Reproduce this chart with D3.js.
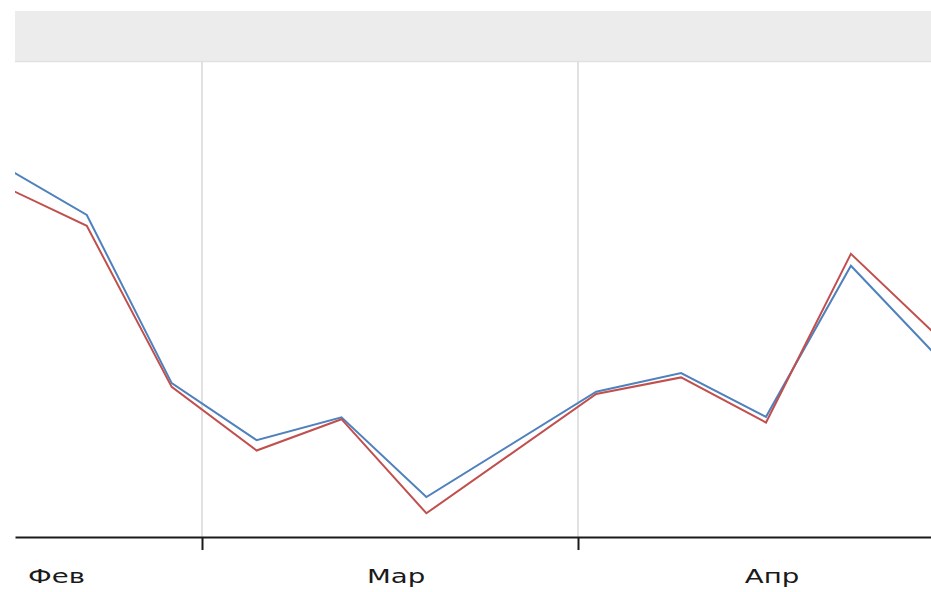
<!DOCTYPE html>
<html>
<head>
<meta charset="utf-8">
<script src="https://cdn.jsdelivr.net/npm/d3@7"></script>
<style>
  html, body { margin: 0; padding: 0; background: #fff; }
  svg { display: block; }
</style>
</head>
<body>
<svg id="chart" width="931" height="592"></svg>
<script>
// ---- data ----
const weekDates = [
  "2015-02-12T12:00", "2015-02-19T12:00", "2015-02-26T12:00", "2015-03-05T12:00",
  "2015-03-12T12:00", "2015-03-19T12:00", "2015-04-02T12:00", "2015-04-09T12:00",
  "2015-04-16T12:00", "2015-04-23T12:00", "2015-04-30T12:00"
];
const seriesBlue = [78.2, 67.8, 32.4, 20.4, 25.2, 8.4, 30.6, 34.5, 25.3, 57.1, 38.3];
const seriesRed  = [74.0, 65.5, 31.6, 18.2, 24.8, 5.0, 30.1, 33.6, 24.1, 59.6, 42.6];
const tickDates  = ["2015-03-01T00:00", "2015-04-01T00:00"];
const monthLabels = ["Фев", "Мар", "Апр"];
const labelDates  = ["2015-02-17T00:00", "2015-03-17T00:00", "2015-04-17T00:00"];

(function () {
const parse = d3.utcParse("%Y-%m-%dT%H:%M");
const colors = { blue: "#4F81BD", red: "#C0504D" };

// ---- layout ----
const pL = 15, pR = 931, pT = 62, pB = 537;
const svg = d3.select("#chart");

// time scale anchored on the two month gridlines, then widened to the plot edges
const anchor = d3.scaleUtc().domain(tickDates.map(parse)).range([202, 578]);
const x = d3.scaleUtc().domain([anchor.invert(pL), anchor.invert(pR)]).range([pL, pR]);
const y = d3.scaleLinear().domain([0, 100]).range([pB, pT]);

// header band
svg.append("rect").attr("x", pL).attr("y", 11).attr("width", pR - pL).attr("height", 51)
  .attr("fill", "#ececec");
svg.append("line").attr("x1", pL).attr("x2", pR).attr("y1", 61.5).attr("y2", 61.5)
  .attr("stroke", "#e1e1e1").attr("stroke-width", 1.5);

// vertical gridlines
svg.append("g").selectAll("line").data(tickDates.map(parse)).join("line")
  .attr("x1", d => x(d)).attr("x2", d => x(d))
  .attr("y1", pT).attr("y2", pB)
  .attr("stroke", "#d9d9d9").attr("stroke-width", 1.5);

// clip for the lines
svg.append("clipPath").attr("id", "plotclip").append("rect")
  .attr("x", pL).attr("y", pT).attr("width", pR - pL).attr("height", pB - pT);

const line = d3.line().x(d => x(d.date)).y(d => y(d.value));
const toPts = vals => weekDates.map((s, i) => ({ date: parse(s), value: vals[i] }));

const lg = svg.append("g").attr("clip-path", "url(#plotclip)");
lg.append("path").datum(toPts(seriesBlue)).attr("d", line)
  .attr("fill", "none").attr("stroke", colors.blue).attr("stroke-width", 2).attr("stroke-linejoin", "miter");
lg.append("path").datum(toPts(seriesRed)).attr("d", line)
  .attr("fill", "none").attr("stroke", colors.red).attr("stroke-width", 2).attr("stroke-linejoin", "miter");

// x axis
const axis = d3.axisBottom(x).tickValues(tickDates.map(parse)).tickFormat("").tickSizeInner(13).tickSizeOuter(0);
const ax = svg.append("g").attr("transform", `translate(0,${pB})`).call(axis);
ax.select(".domain").attr("stroke", "#1a1a1a").attr("stroke-width", 2);
ax.selectAll(".tick line").attr("stroke", "#1a1a1a").attr("stroke-width", 2);

// month labels
svg.append("g").selectAll("text").data(monthLabels).join("text")
  .attr("transform", (d, i) => `translate(${x(parse(labelDates[i]))},583) scale(1.38,1)`)
  .attr("text-anchor", "middle")
  .attr("font-family", "'DejaVu Sans', Verdana, sans-serif")
  .attr("font-size", 20)
  .attr("fill", "#1a1a1a")
  .text(d => d);
})();
</script>
</body>
</html>
